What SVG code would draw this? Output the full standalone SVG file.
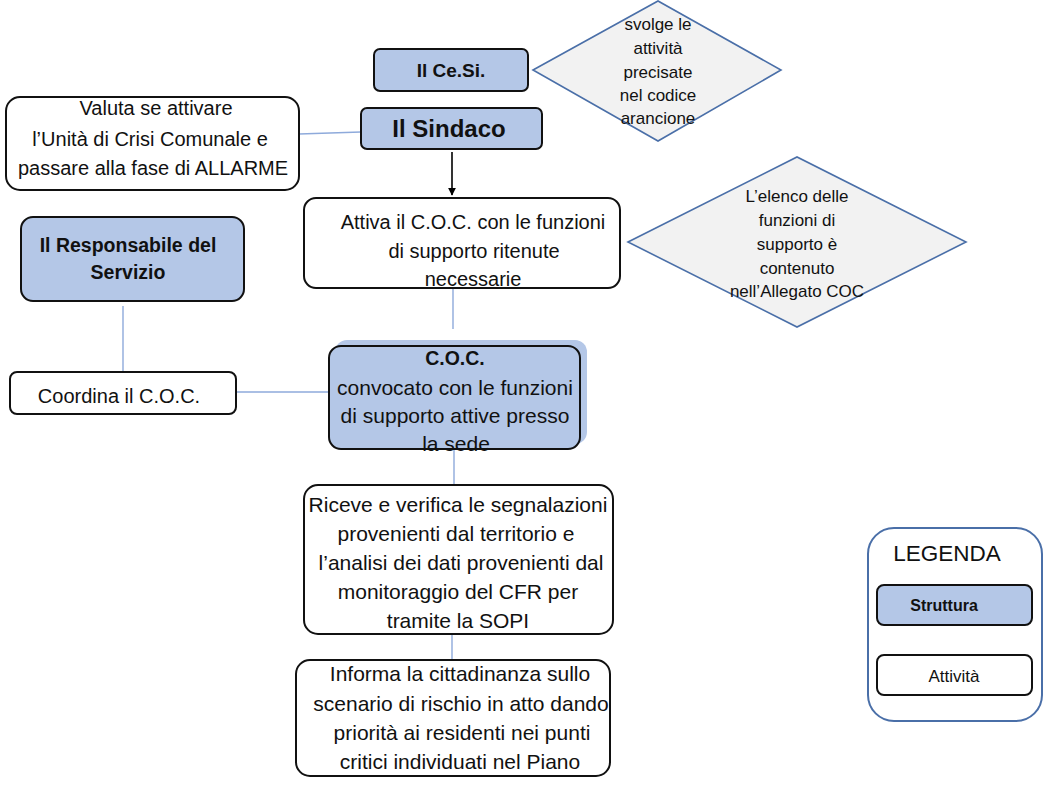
<svg xmlns="http://www.w3.org/2000/svg" width="1043" height="787" viewBox="0 0 1043 787">
<style>
text{font-family:"Liberation Sans",Arial,sans-serif;fill:#111;text-anchor:middle}
.t{font-size:17px}
.m{font-size:20px}
.l{font-size:21px}
.b{font-weight:bold}
.struct{fill:#b4c7e7;stroke:#111;stroke-width:2}
.act{fill:#fff;stroke:#111;stroke-width:2}
.dia{fill:#f2f2f2;stroke:#4a6fa8;stroke-width:1.6}
.con{stroke:#8eaadb;stroke-width:1.4;fill:none}
</style>
<defs>
<marker id="arr" viewBox="0 0 10 10" refX="9" refY="5" markerWidth="8" markerHeight="8" orient="auto" markerUnits="userSpaceOnUse">
<path d="M0,0 L10,5 L0,10 z" fill="#000"/>
</marker>
</defs>
<rect width="1043" height="787" fill="#fff"/>
<g id="connectors">
<line class="con" x1="299" y1="134" x2="361" y2="132"/>
<line x1="452" y1="152" x2="452" y2="195" stroke="#000" stroke-width="1.6" marker-end="url(#arr)"/>
<line class="con" x1="453" y1="289" x2="453" y2="329"/>
<line class="con" x1="123" y1="306" x2="123" y2="372"/>
<line class="con" x1="236" y1="392" x2="330" y2="392"/>
<line class="con" x1="454" y1="449" x2="454" y2="485"/>
<line class="con" x1="452" y1="634" x2="452" y2="660"/>
</g>
<g id="cesi">
<rect class="struct" x="374" y="49" width="154" height="42" rx="6"/>
<text class="b" x="451" y="77" font-size="19">Il Ce.Si.</text>
</g>
<g id="diamond1">
<polygon class="dia" points="533,70 658,1 781,70 658,141"/>
<text class="t" x="658" y="30">svolge le</text>
<text class="t" x="658" y="54">attività</text>
<text class="t" x="658" y="78">precisate</text>
<text class="t" x="658" y="101">nel codice</text>
<text class="t" x="658" y="124">arancione</text>
</g>
<g id="sindaco">
<rect class="struct" x="361" y="108" width="181" height="41" rx="6"/>
<text class="b" x="449" y="137" font-size="24">Il Sindaco</text>
</g>
<g id="valuta">
<rect class="act" x="6" y="97" width="293" height="93" rx="14"/>
<text class="m" x="156" y="115">Valuta se attivare</text>
<text class="m" x="150" y="146">l’Unità di Crisi Comunale e</text>
<text class="m" x="153" y="175">passare alla fase di ALLARME</text>
</g>
<g id="attiva">
<rect class="act" x="304" y="198" width="316" height="90" rx="12"/>
<text class="m" x="473" y="229">Attiva il C.O.C. con le funzioni</text>
<text class="m" x="474" y="258">di supporto ritenute</text>
<text class="m" x="473" y="286">necessarie</text>
</g>
<g id="diamond2">
<polygon class="dia" points="628,242 797,157 966,242 797,327"/>
<text class="t" x="797" y="202">L’elenco delle</text>
<text class="t" x="797" y="226">funzioni di</text>
<text class="t" x="797" y="250">supporto è</text>
<text class="t" x="797" y="274">contenuto</text>
<text class="t" x="797" y="297">nell’Allegato COC</text>
</g>
<g id="responsabile">
<rect class="struct" x="21" y="217" width="223" height="84" rx="12"/>
<text class="b" x="128" y="252" font-size="19.5">Il Responsabile del</text>
<text class="b" x="128" y="279" font-size="19.5">Servizio</text>
</g>
<g id="coordina">
<rect class="act" x="10" y="372" width="226" height="42" rx="7"/>
<text class="m" x="119" y="403">Coordina il C.O.C.</text>
</g>
<g id="coc">
<rect x="335" y="340" width="252" height="104" rx="12" fill="#b4c7e7"/>
<rect class="struct" x="329" y="346" width="251" height="103" rx="12"/>
<text class="b" x="455" y="365" font-size="19.5">C.O.C.</text>
<text class="l" x="455" y="395">convocato con le funzioni</text>
<text class="l" x="455" y="423">di supporto attive presso</text>
<text class="l" x="456" y="451">la sede</text>
</g>
<g id="riceve">
<rect class="act" x="304" y="485" width="309" height="149" rx="14"/>
<text class="l" x="458" y="512">Riceve e verifica le segnalazioni</text>
<text class="l" x="456" y="541">provenienti dal territorio e</text>
<text class="l" x="461" y="570">l’analisi dei dati provenienti dal</text>
<text class="l" x="458" y="599">monitoraggio del CFR per</text>
<text class="l" x="458" y="628">tramite la SOPI</text>
</g>
<g id="informa">
<rect class="act" x="296" y="660" width="314" height="116" rx="14"/>
<text class="l" x="460" y="681">Informa la cittadinanza sullo</text>
<text class="l" x="461" y="711">scenario di rischio in atto dando</text>
<text class="l" x="462" y="740">priorità ai residenti nei punti</text>
<text class="l" x="460" y="769">critici individuati nel Piano</text>
</g>
<g id="legenda">
<rect x="868" y="528" width="174" height="193" rx="26" fill="#fff" stroke="#4a6fa8" stroke-width="2"/>
<text x="947" y="561" font-size="22.5">LEGENDA</text>
<rect class="struct" x="877" y="585" width="155" height="40" rx="7"/>
<text class="b" x="944" y="611" font-size="16">Struttura</text>
<rect class="act" x="877" y="655" width="155" height="40" rx="7"/>
<text x="954" y="682" font-size="17">Attività</text>
</g>
</svg>
